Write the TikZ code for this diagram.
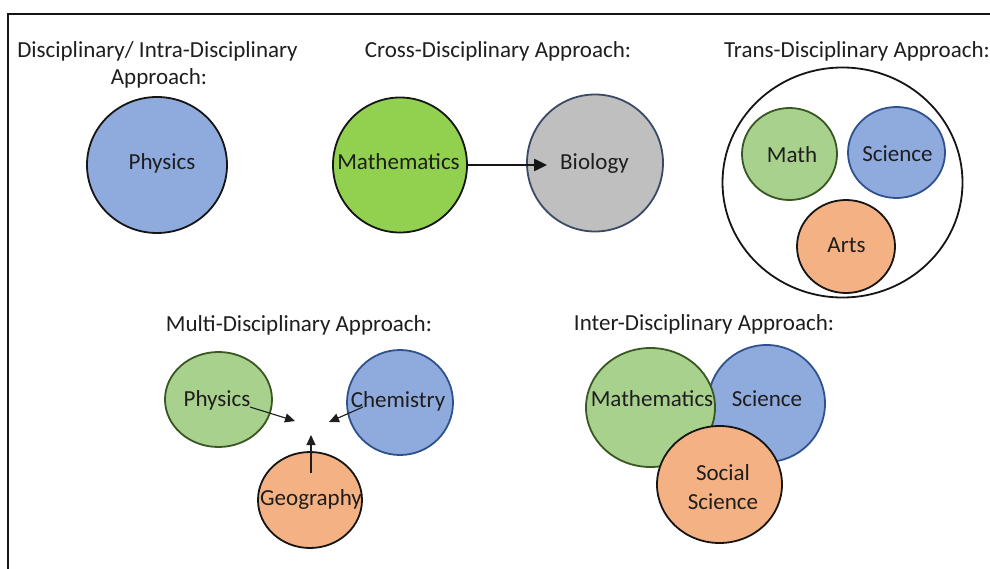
\documentclass[tikz,border=0pt]{standalone}
\usepackage{fontspec}
\setmainfont{Carlito}
\usetikzlibrary{shapes.geometric,arrows.meta}
\definecolor{bluef}{HTML}{8FAADC}
\definecolor{blued}{HTML}{2F528F}
\definecolor{greenf}{HTML}{A9D18E}
\definecolor{greend}{HTML}{385723}
\definecolor{limef}{HTML}{92D050}
\definecolor{grayf}{HTML}{BFBFBF}
\definecolor{grayd}{HTML}{3A4A66}
\definecolor{orangef}{HTML}{F4B183}
\definecolor{txt}{HTML}{1E1E1E}
\definecolor{edge}{HTML}{151515}
\begin{document}
\begin{tikzpicture}[x=1pt,y=-1pt,
  disc/.style={ellipse, draw=edge, line width=1.8pt, inner sep=0pt},
  lbl/.style={anchor=base, inner sep=0pt, text=txt, font=\fontsize{23}{28}\selectfont},
  thinarrow/.style={draw=txt, line width=1.1pt, -{Triangle[length=10pt,width=9pt]}},
  thickarrow/.style={draw=edge, line width=2.4pt, -{Triangle[length=13pt,width=12pt]}},
  frame/.style={draw=edge, line width=2pt}]
\useasboundingbox (0,0) rectangle (990,569);
% frame
\coordinate (fbl) at (8,569);
\coordinate (ftl) at (8,14);
\coordinate (ftr) at (990,14);
\draw[frame] (fbl) -- (ftl) -- (ftr);

% titles
\node[lbl] (t1a) at (157.5,58) {Disciplinary/ Intra-Disciplinary};
\node[lbl] (t1b) at (159,85) {Approach:};
\node[lbl] (t2) at (498,58) {Cross-Disciplinary Approach:};
\node[lbl] (t3) at (857,58) {Trans-Disciplinary Approach:};
\node[lbl] (t4) at (299,331) {Multi-Disciplinary Approach:};
\node[lbl] (t5) at (704,330) {Inter-Disciplinary Approach:};

% disciplinary
\node[disc, fill=bluef, minimum width=140pt, minimum height=136pt] (physA) at (157,165) {};
\node[lbl] (physAT) at (162,170) {Physics};

% cross
\node[disc, fill=limef, minimum width=134pt, minimum height=135pt] (mathX) at (400,165) {};
\node[disc, fill=grayf, draw=grayd, minimum width=136pt, minimum height=137pt] (bioX) at (595,163) {};
\node[lbl] (mathXT) at (398.5,170) {Mathematics};
\node[lbl] (bioXT) at (594.5,170) {Biology};
\draw[thickarrow, shorten >=13pt] (mathX.east) -- (bioXT.west |- mathX.east);

% trans
\node[disc, fill=white, minimum width=240pt, minimum height=230pt] (outer) at (842.5,182.5) {};
\node[disc, fill=greenf, draw=greend, minimum width=95pt, minimum height=92pt] (mathT) at (789.5,154) {};
\node[disc, fill=bluef, draw=blued, minimum width=97pt, minimum height=91pt] (sciT) at (896.5,152.5) {};
\node[disc, fill=orangef, minimum width=98pt, minimum height=93pt] (artsT) at (846,246.5) {};
\node[lbl] (mathTT) at (792,163) {Math};
\node[lbl] (sciTT) at (897.5,162) {Science};
\node[lbl] (artsTT) at (846.5,253) {Arts};

% multi
\node[disc, fill=greenf, draw=greend, minimum width=107pt, minimum height=95pt] (physM) at (218.5,399.5) {};
\node[disc, fill=bluef, draw=blued, minimum width=106pt, minimum height=105pt] (chemM) at (400,402.5) {};
\node[disc, fill=orangef, minimum width=104pt, minimum height=96pt] (geoM) at (310,500) {};
\node[lbl] (physMT) at (217,406) {Physics};
\node[lbl] (chemMT) at (398,407) {Chemistry};
\node[lbl] (geoMT) at (311,505) {Geography};
\coordinate (pStart) at (250,407);
\coordinate (pTip) at (295,421);
\coordinate (cStart) at (363,407);
\coordinate (cTip) at (329,422);
\coordinate (gStart) at (311,473);
\coordinate (gTip) at (311,435);
\draw[thinarrow] (pStart) -- (pTip);
\draw[thinarrow] (cStart) -- (cTip);
\draw[thinarrow] (gStart) -- (gTip);

% inter
\node[disc, fill=bluef, draw=blued, minimum width=117pt, minimum height=117pt] (sciI) at (766.5,403.5) {};
\node[disc, fill=greenf, draw=greend, minimum width=129pt, minimum height=119pt] (mathI) at (650.5,407.5) {};
\node[disc, fill=orangef, minimum width=125pt, minimum height=117pt] (socI) at (719.5,484.5) {};
\node[lbl] (mathIT) at (652,406) {Mathematics};
\node[lbl] (sciIT) at (767,406) {Science};
\node[lbl] (socIT1) at (723,480) {Social};
\node[lbl] (socIT2) at (723,509) {Science};
\end{tikzpicture}
\end{document}
